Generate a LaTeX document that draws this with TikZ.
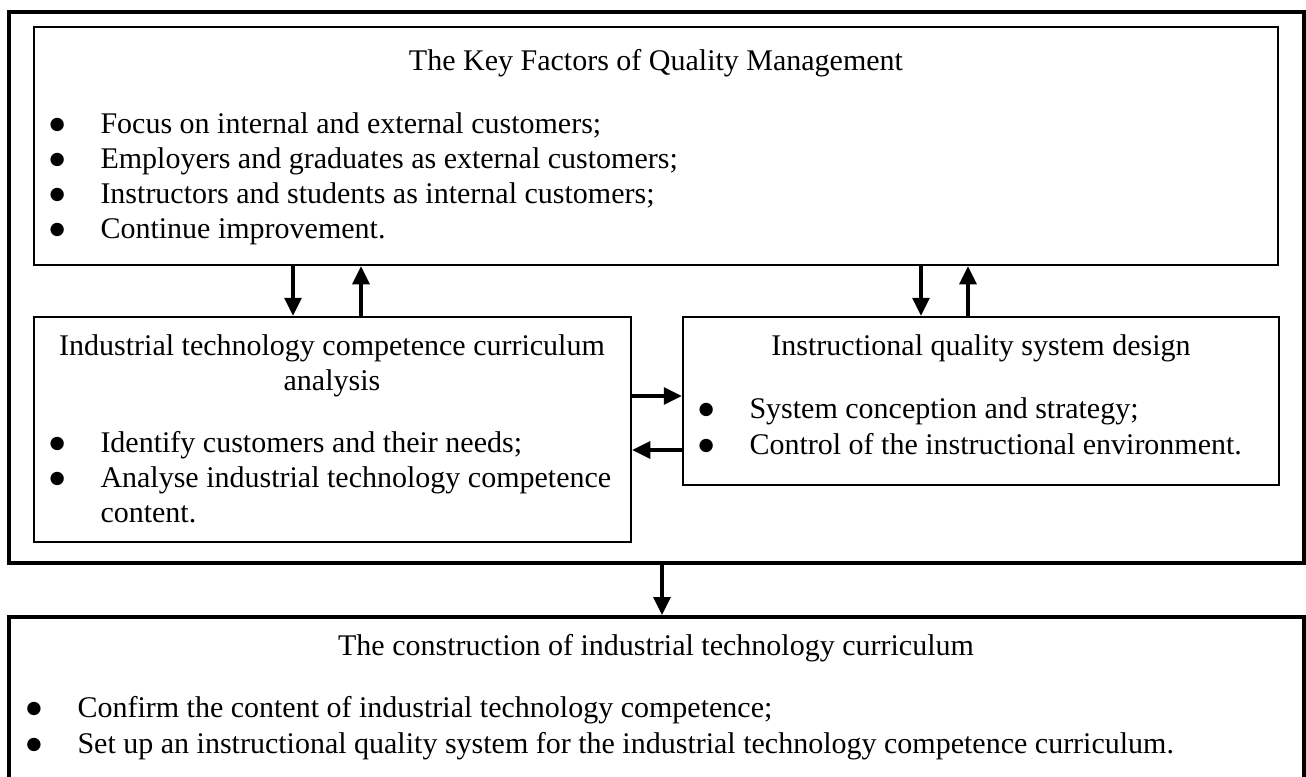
\documentclass[tikz,border=0pt]{standalone}
\usepackage{fontspec}
\setmainfont{Liberation Serif}
\newfontfamily\dotfont{DejaVu Sans}
\usetikzlibrary{arrows.meta,fit}

\begin{document}
\begin{tikzpicture}
[x=0.4pt,y=-0.4pt,
  font=\fontsize{12}{14}\selectfont,
  framedecorate/.style={draw,line width=1.6pt,inner sep=0pt},
  boxdecorate/.style={draw,line width=1pt,inner sep=0pt},
  titledecorate/.style={anchor=base,inner sep=0pt},
  textdecorate/.style={anchor=base west,inner sep=0pt},
  dotdecorate/.style={anchor=base west,inner sep=0pt,font=\dotfont\fontsize{7}{8}\selectfont},
  arrowdecorate/.style={-{Triangle[width=6.8pt,length=7.2pt]},line width=1.3pt}]
\useasboundingbox (0,0) rectangle (1306,776);
%% boxes
\node (outer) [framedecorate,fit={(9,12) (1304,563)}] {};
\node (key) [boxdecorate,fit={(34,27) (1278,265)}] {};
\node (analysis) [boxdecorate,fit={(34,317) (631,542)}] {};
\node (design) [boxdecorate,fit={(683,317) (1279,485)}] {};
\node (build) [framedecorate,fit={(9,617) (1304,820)}] {};
%% titles
\node (keytitle) [titledecorate] at (656,70) {The Key Factors of Quality Management};
\node (analysistitle) [titledecorate] at (332,355) {Industrial technology competence curriculum};
\node (analysistitleb) [titledecorate] at (332,390) {analysis};
\node (designtitle) [titledecorate] at (981,355) {Instructional quality system design};
\node (buildtitle) [titledecorate] at (656,655) {The construction of industrial technology curriculum};
%% bullet lines
\foreach \name/\bx/\tx/\y/\txt in {
  keya/49/100/133/{Focus on internal and external customers;},
  keyb/49/100/168/{Employers and graduates as external customers;},
  keyc/49/100/203/{Instructors and students as internal customers;},
  keyd/49/100/238/{Continue improvement.},
  analysisa/49/100/452/{Identify customers and their needs;},
  analysisb/49/100/487/{Analyse industrial technology competence},
  designa/698/749/418/{System conception and strategy;},
  designb/698/749/454/{Control of the instructional environment.},
  builda/26/77/717/{Confirm the content of industrial technology competence;},
  buildb/26/77/753/{Set up an instructional quality system for the industrial technology competence curriculum.}} {
  \node (\name dot) [dotdecorate] at (\bx,\y) {\raisebox{1.6pt}{●}};
  \node (\name) [textdecorate] at (\tx,\y) {\txt};
}
\node (analysisc) [textdecorate] at (100,522) {content.};
%% arrows
\foreach \down/\up/\lower in {293/361/analysis, 921/968/design} {
  \coordinate (d) at (\down,0);
  \coordinate (u) at (\up,0);
  \draw[arrowdecorate] (key.south -| d) -- (\lower.north -| d);
  \draw[arrowdecorate] (\lower.north -| u) -- (key.south -| u);
}
\coordinate (r) at (0,396);
\coordinate (l) at (0,450);
\coordinate (m) at (662,0);
\draw[arrowdecorate] (analysis.east |- r) -- (design.west |- r);
\draw[arrowdecorate] (design.west |- l) -- (analysis.east |- l);
\draw[arrowdecorate] (outer.south -| m) -- (build.north -| m);
\end{tikzpicture}
\end{document}
